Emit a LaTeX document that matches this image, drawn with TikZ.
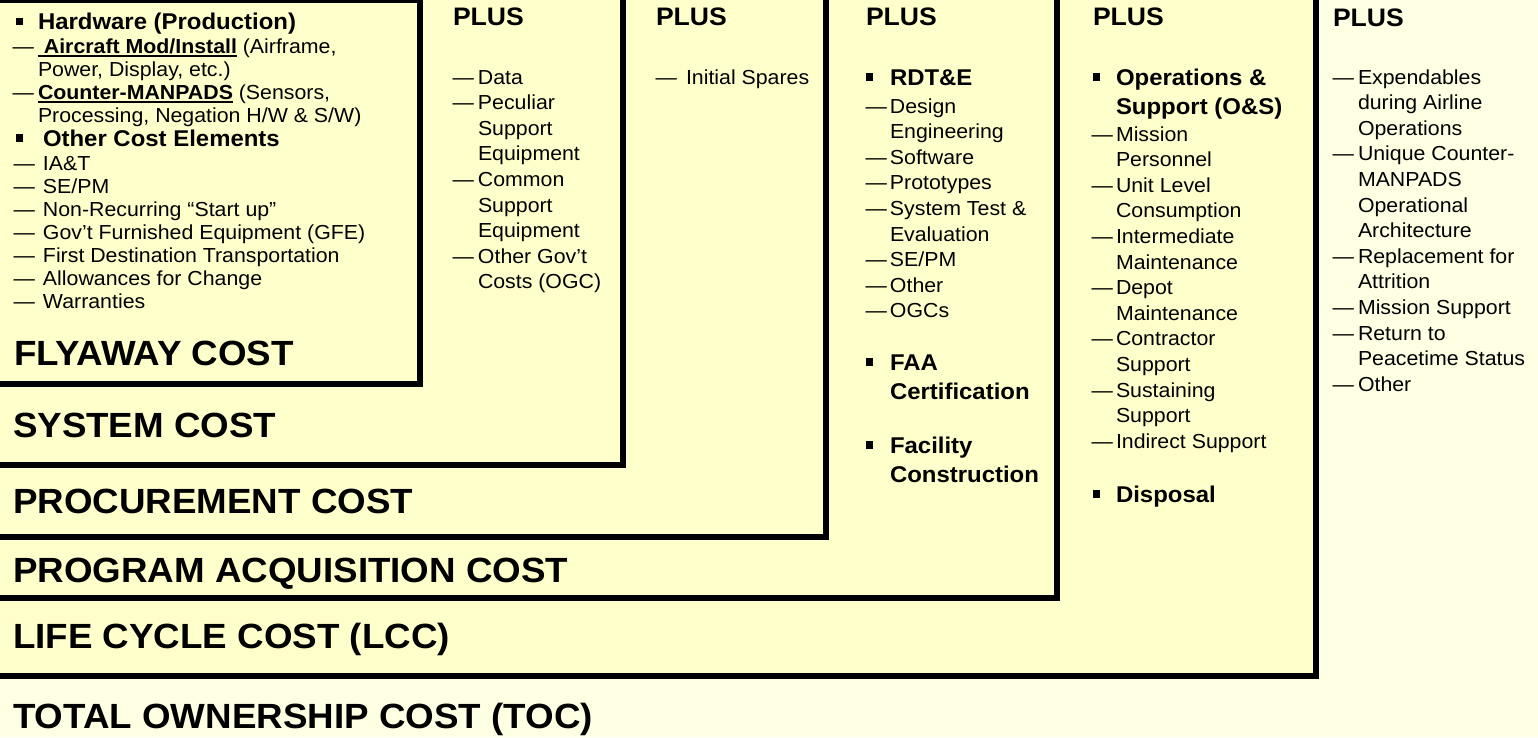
\documentclass[tikz,border=0pt]{standalone}
\usepackage{fontspec}
\setmainfont{Liberation Sans}[FakeStretch=1.05]
\definecolor{boxfill}{HTML}{FFFFCC}
\definecolor{tocfill}{HTML}{FFFFE4}
\newcommand\dsh[1]{\llap{—\hspace{#1}}}
\newcommand\sqb[1]{\llap{\rule[4.5pt]{7.5pt}{7.5pt}\hspace{#1}}}
\newcommand\ulbf[1]{\setbox0\hbox{\bfseries #1}\rlap{\rule[-4.3pt]{\wd0}{2.3pt}}\box0\relax}

\begin{document}
\begin{tikzpicture}[x=1pt,y=1pt,
        every node/.style={inner sep=0pt, outer sep=0pt},
        box/.style={fill=boxfill, draw=black, line width=6pt},
        ttl/.style={anchor=base west, font=\bfseries\fontsize{35}{40}\selectfont},
        plus/.style={anchor=base west, font=\bfseries\fontsize{25.3}{30}\selectfont},
        hdr/.style={anchor=north west, align=left, yshift=20.65pt, font=\bfseries\fontsize{22.8}{29.5}\selectfont},
        lst/.style={anchor=north west, align=left, yshift=17.92pt, font=\fontsize{20.3}{25.6}\selectfont},
        lsta/.style={anchor=north west, align=left, yshift=16.1pt, font=\fontsize{20.3}{23}\selectfont}]
        \useasboundingbox (0,0) rectangle (1538,-737);
        \fill [tocfill] (0,0) rectangle (1538,-737);
        \filldraw [box] (-20,20) rectangle (1316,-676);
        \filldraw [box] (-20,20) rectangle (1057,-598);
        \filldraw [box] (-20,20) rectangle (826,-537);
        \filldraw [box] (-20,20) rectangle (623,-465);
        \filldraw [box] (-20,0) rectangle (420,-384);
        \node [ttl] (fly) at (14,-365.5) {FLYAWAY COST};
        \node [ttl] (sys) at (13,-437) {SYSTEM COST};
        \node [ttl] (proc) at (13,-513) {PROCUREMENT COST};
        \node [ttl] (pac) at (13,-582) {PROGRAM ACQUISITION COST};
        \node [ttl] (lcc) at (13,-648) {LIFE CYCLE COST (LCC)};
        \node [ttl] (toc) at (13,-728) {TOTAL OWNERSHIP COST (TOC)};
        \node [hdr] (hw) at (38,-29.5) {\strut\sqb{15pt}Hardware (Production)};
        \node [lsta] (hwlist) at (38,-53) {\strut\dsh{4pt}\ulbf{\ Aircraft Mod/Install} (Airframe,\\Power, Display, etc.)\\\dsh{4pt}\ulbf{Counter-MANPADS} (Sensors,\\Processing, Negation H/W \& S/W)};
        \node [hdr] (other) at (43,-146) {\strut\sqb{20pt}Other Cost Elements};
        \node [lsta] (otherlist) at (43,-170) {\strut\dsh{8pt}IA\&T\\\dsh{8pt}SE/PM\\\dsh{8pt}Non-Recurring ``Start up''\\\dsh{8pt}Gov't Furnished Equipment (GFE)\\\dsh{8pt}First Destination Transportation\\\dsh{8pt}Allowances for Change\\\dsh{8pt}Warranties};
        \node [plus] (plussys) at (453,-25) {PLUS};
        \node [lst] (syslist) at (478,-84) {\strut\dsh{4pt}Data\\\dsh{4pt}Peculiar\\Support\\Equipment\\\dsh{4pt}Common\\Support\\Equipment\\\dsh{4pt}Other Gov't\\Costs (OGC)};
        \node [plus] (plusproc) at (656,-25) {PLUS};
        \node [lst] (proclist) at (686,-84) {\strut\dsh{9pt}Initial Spares};
        \node [plus] (pluspac) at (866,-25) {PLUS};
        \node [hdr] (rdte) at (890,-85) {\strut\sqb{17pt}RDT\&E};
        \node [lst] (rdtelist) at (890,-113) {\strut\dsh{3pt}Design\\Engineering\\\dsh{3pt}Software\\\dsh{3pt}Prototypes\\\dsh{3pt}System Test \&\\Evaluation\\\dsh{3pt}SE/PM\\\dsh{3pt}Other\\\dsh{3pt}OGCs};
        \node [hdr] (faa) at (890,-370) {\strut\sqb{17pt}FAA\\Certification};
        \node [hdr] (facility) at (890,-453) {\strut\sqb{17pt}Facility\\Construction};
        \node [plus] (pluslcc) at (1093,-25) {PLUS};
        \node [hdr] (ops) at (1116,-85) {\strut\sqb{16pt}Operations \&\\Support (O\&S)};
        \node [lst] (opslist) at (1116,-141) {\strut\dsh{3pt}Mission\\Personnel\\\dsh{3pt}Unit Level\\Consumption\\\dsh{3pt}Intermediate\\Maintenance\\\dsh{3pt}Depot\\Maintenance\\\dsh{3pt}Contractor\\Support\\\dsh{3pt}Sustaining\\Support\\\dsh{3pt}Indirect Support};
        \node [hdr] (disposal) at (1116,-502) {\strut\sqb{16pt}Disposal};
        \node [plus] (plustoc) at (1333,-26) {PLUS};
        \node [lst] (toclist) at (1358,-84) {\strut\dsh{4pt}Expendables\\during Airline\\Operations\\\dsh{4pt}Unique Counter-\\MANPADS\\Operational\\Architecture\\\dsh{4pt}Replacement for\\Attrition\\\dsh{4pt}Mission Support\\\dsh{4pt}Return to\\Peacetime Status\\\dsh{4pt}Other};
\end{tikzpicture}
\end{document}
